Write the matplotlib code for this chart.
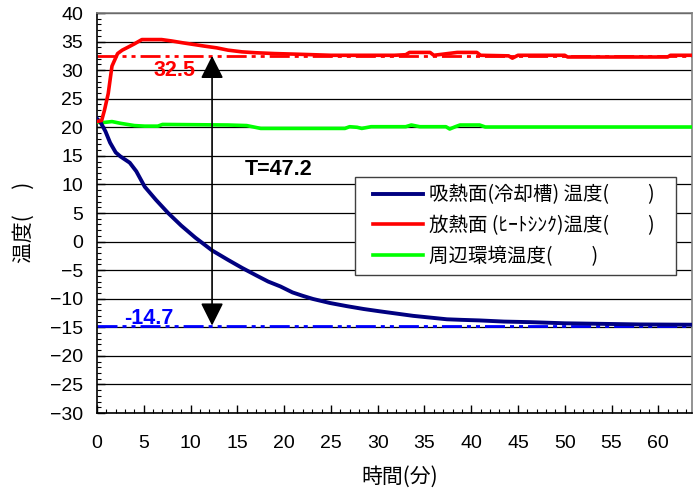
import matplotlib
matplotlib.use("Agg")
import matplotlib.pyplot as plt
from matplotlib.ticker import MultipleLocator
from matplotlib.patches import Rectangle

plt.rcParams['font.family'] = ['Liberation Sans', 'Noto Sans CJK JP', 'DejaVu Sans']

# ---- data ----
t_cold = [0, 0.4, 0.9, 1.4, 2.0, 2.5, 3.5, 4.2, 5.1, 6.3, 7.6, 9.0, 10.5, 12.3, 14.0,
          15.5, 17.0, 18.3, 19.6, 20.9, 22.0, 23.1, 24.9, 26.7, 28.5, 30.2, 32.0, 33.8,
          35.6, 37.4, 39.0, 40.9, 43.5, 46.3, 50.0, 54.1, 58.0, 63.6]
v_cold = [21.5, 20.8, 19.3, 17.3, 15.6, 14.9, 13.8, 12.3, 9.6, 7.3, 5.0, 2.8, 0.7, -1.55, -3.2,
          -4.6, -5.9, -7.0, -7.85, -8.9, -9.5, -10.05, -10.75, -11.3, -11.8, -12.2, -12.6, -13.0,
          -13.3, -13.6, -13.7, -13.8, -14.0, -14.1, -14.3, -14.4, -14.5, -14.55]

t_hot = [0, 0.5, 0.8, 1.2, 1.6, 2.2, 2.7, 3.3, 4.0, 4.8, 6.9, 8.0, 9.1, 10.3, 11.5, 12.8,
         14.0, 15.5, 16.9, 19.0, 21.2, 25.0, 31.8, 33.0, 33.4, 35.6, 36.0, 38.5, 40.6, 41.0,
         44.0, 44.4, 45.0, 48.0, 50.0, 50.3, 61.0, 61.3, 63.6]
v_hot = [21.0, 21.2, 23.0, 25.9, 30.7, 32.9, 33.5, 34.0, 34.6, 35.35, 35.35, 35.1, 34.8, 34.5,
         34.2, 33.9, 33.5, 33.2, 33.05, 32.9, 32.8, 32.6, 32.6, 32.7, 33.1, 33.1, 32.6, 33.1,
         33.1, 32.6, 32.5, 32.1, 32.6, 32.6, 32.6, 32.3, 32.3, 32.6, 32.6]

t_env = [0, 0.5, 1.6, 2.5, 4.0, 5.1, 6.5, 7.0, 14.0, 16.0, 17.5, 26.5, 27.0, 27.8, 28.3, 29.3,
         33.0, 33.6, 34.5, 37.3, 37.7, 38.3, 38.8, 40.9, 41.5, 63.6]
v_env = [20.9, 20.8, 21.0, 20.7, 20.3, 20.2, 20.2, 20.5, 20.4, 20.3, 19.8, 19.8, 20.1, 20.0,
         19.8, 20.1, 20.1, 20.4, 20.1, 20.1, 19.7, 20.1, 20.4, 20.4, 20.05, 20.05]

hot_ref = 32.5
cold_ref = -14.7
delta_label = "T=47.2"
arrow_t = 12.3

labels = ["吸熱面(冷却槽) 温度(　　)", "放熱面 (ﾋｰﾄｼﾝｸ)温度(　　)", "周辺環境温度(　　)"]
x_ticks = list(range(0, 65, 5))
y_ticks = list(range(-30, 45, 5))

# ---- figure ----
fig = plt.figure(figsize=(6.96, 4.96), dpi=100)
ax = fig.add_axes([97/696, 1-413/496, 595/696, 400/496])
ax.set_xlim(0, 63.6)
ax.set_ylim(-30, 40)

ax.yaxis.grid(True, which='major', color='black', lw=0.9)
ax.set_axisbelow(True)

dash = (7.2, 1.8, 1.45, 1.8, 1.45, 1.8)
ax.axhline(hot_ref, color='#ff0000', lw=2, dashes=dash, zorder=2)
ax.axhline(cold_ref, color='#0000ff', lw=2, dashes=dash, zorder=2)

l1, = ax.plot(t_cold, v_cold, color='#000080', lw=2.8, zorder=4, label=labels[0])
l2, = ax.plot(t_hot, v_hot, color='#ff0000', lw=2.6, zorder=4, label=labels[1])
l3, = ax.plot(t_env, v_env, color='#00ff00', lw=2.6, zorder=3, label=labels[2])

ax.annotate('', xy=(arrow_t, hot_ref), xytext=(arrow_t, cold_ref),
            arrowprops=dict(arrowstyle='<|-|>,head_length=0.7,head_width=0.35',
                            mutation_scale=20, color='black', lw=1.2,
                            shrinkA=0, shrinkB=0), zorder=5)

ax.text(8.3, 29.9, f"{hot_ref}", color='#ff0000', fontsize=15.5, fontweight='bold',
        ha='center', va='center', zorder=6)
ax.text(5.5, -13.4, f"{cold_ref}", color='#0000ff', fontsize=15.5, fontweight='bold',
        ha='center', va='center', zorder=6)
ax.text(19.4, 12.55, delta_label, color='black', fontsize=15.5, fontweight='bold',
        ha='center', va='center', zorder=6)

ax.set_xticks(x_ticks)
ax.set_yticks(y_ticks)
ax.xaxis.set_minor_locator(MultipleLocator(1))
ax.yaxis.set_minor_locator(MultipleLocator(1))
ax.tick_params(axis='both', which='major', direction='in', length=6, width=1, labelsize=14)
ax.tick_params(axis='both', which='minor', direction='in', length=3, width=0.8)
ax.tick_params(axis='x', which='both', pad=16, top=False)
ax.tick_params(axis='y', which='both', pad=10, right=False)

for s in ['top', 'right']:
    ax.spines[s].set_color('#808080')
    ax.spines[s].set_linewidth(1.2)
for s in ['left', 'bottom']:
    ax.spines[s].set_color('black')
    ax.spines[s].set_linewidth(1.2)

# legend frame drawn as a box, legend entries without frame
box = Rectangle((0.4336, 0.345), 0.5395, 0.245, transform=ax.transAxes,
                facecolor='white', edgecolor='#404040', lw=1.0, zorder=6.5)
ax.add_patch(box)
leg = ax.legend(handles=[l1, l2, l3], loc='center left', bbox_to_anchor=(0.464, 0.468),
                prop={'family': ['Noto Sans CJK JP', 'DejaVu Sans'], 'size': 14},
                frameon=False, handlelength=2.58, handletextpad=0.3,
                labelspacing=0.5, borderpad=0, borderaxespad=0)
leg.set_zorder(7)

fig.text(400/696, 1-477/496, "時間(分)", ha='center', va='center', fontsize=15,
         family=['Noto Sans CJK JP', 'DejaVu Sans'])
fig.text(24/696, 1-222/496, "温度(　 )", ha='center', va='center', fontsize=15,
         rotation=90, family=['Noto Sans CJK JP', 'DejaVu Sans'])

fig.savefig("out.png", dpi=100)
